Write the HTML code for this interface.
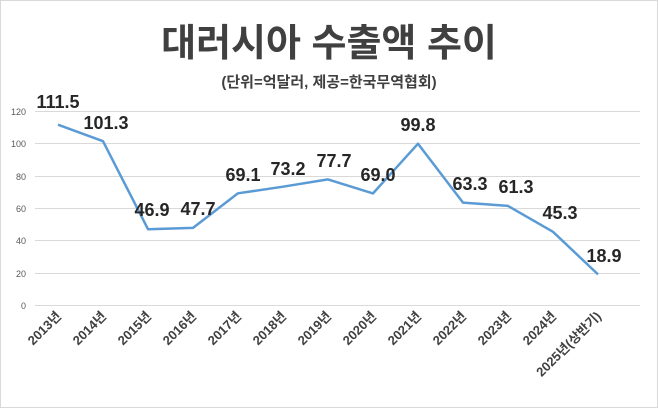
<!DOCTYPE html>
<html><head><meta charset="utf-8"><style>
html,body{margin:0;padding:0;background:#fff}
svg{display:block}
text{font-family:"Liberation Sans","Noto Sans CJK KR",sans-serif}
</style></head><body>
<svg width="658" height="408" viewBox="0 0 658 408">
<rect x="0.5" y="0.5" width="657" height="407" fill="#fff" stroke="#d9d9d9"/>
<text x="329" y="56" text-anchor="middle" font-size="38" font-weight="bold" fill="#404040">대러시아 수출액 추이</text>
<text x="329" y="87" text-anchor="middle" font-size="15" font-weight="bold" fill="#404040">(단위=억달러, 제공=한국무역협회)</text>
<g stroke="#d9d9d9" stroke-width="1">
<line x1="35" x2="640" y1="111.5" y2="111.5"/>
<line x1="35" x2="640" y1="143.5" y2="143.5"/>
<line x1="35" x2="640" y1="176.5" y2="176.5"/>
<line x1="35" x2="640" y1="208.5" y2="208.5"/>
<line x1="35" x2="640" y1="240.5" y2="240.5"/>
<line x1="35" x2="640" y1="273.5" y2="273.5"/>
<line x1="35" x2="640" y1="305.5" y2="305.5"/>
</g>
<g font-size="9" fill="#595959" text-anchor="end">
<text x="26" y="115">120</text><text x="26" y="147">100</text><text x="26" y="180">80</text>
<text x="26" y="212">60</text><text x="26" y="244">40</text><text x="26" y="277">20</text><text x="26" y="309">0</text>
</g>
<polyline fill="none" stroke="#5b9bd5" stroke-width="2.5" stroke-linejoin="round"
points="58,124.7 103,141.2 148,229.2 193,227.9 238,193.3 283,186.7 328,179.4 373,193.4 418,143.7 463,202.6 508,205.9 553,231.8 598,274.4"/>
<g font-size="18" font-weight="bold" fill="#262626" text-anchor="middle">
<text x="58" y="108">111.5</text>
<text x="106" y="129">101.3</text>
<text x="152" y="216">46.9</text>
<text x="198" y="215">47.7</text>
<text x="243" y="181">69.1</text>
<text x="288" y="175">73.2</text>
<text x="334" y="167">77.7</text>
<text x="378" y="181">69.0</text>
<text x="418" y="131">99.8</text>
<text x="470" y="190">63.3</text>
<text x="516" y="193">61.3</text>
<text x="560" y="219">45.3</text>
<text x="604" y="262">18.9</text>
</g>
<g font-size="13" font-weight="bold" fill="#404040" text-anchor="end">
<text transform="translate(62,317) rotate(-45)">2013년</text>
<text transform="translate(107,317) rotate(-45)">2014년</text>
<text transform="translate(152,317) rotate(-45)">2015년</text>
<text transform="translate(197,317) rotate(-45)">2016년</text>
<text transform="translate(242,317) rotate(-45)">2017년</text>
<text transform="translate(287,317) rotate(-45)">2018년</text>
<text transform="translate(332,317) rotate(-45)">2019년</text>
<text transform="translate(377,317) rotate(-45)">2020년</text>
<text transform="translate(422,317) rotate(-45)">2021년</text>
<text transform="translate(467,317) rotate(-45)">2022년</text>
<text transform="translate(512,317) rotate(-45)">2023년</text>
<text transform="translate(557,317) rotate(-45)">2024년</text>
<text transform="translate(602,317) rotate(-45)">2025년(상반기)</text>
</g>
</svg>
</body></html>
